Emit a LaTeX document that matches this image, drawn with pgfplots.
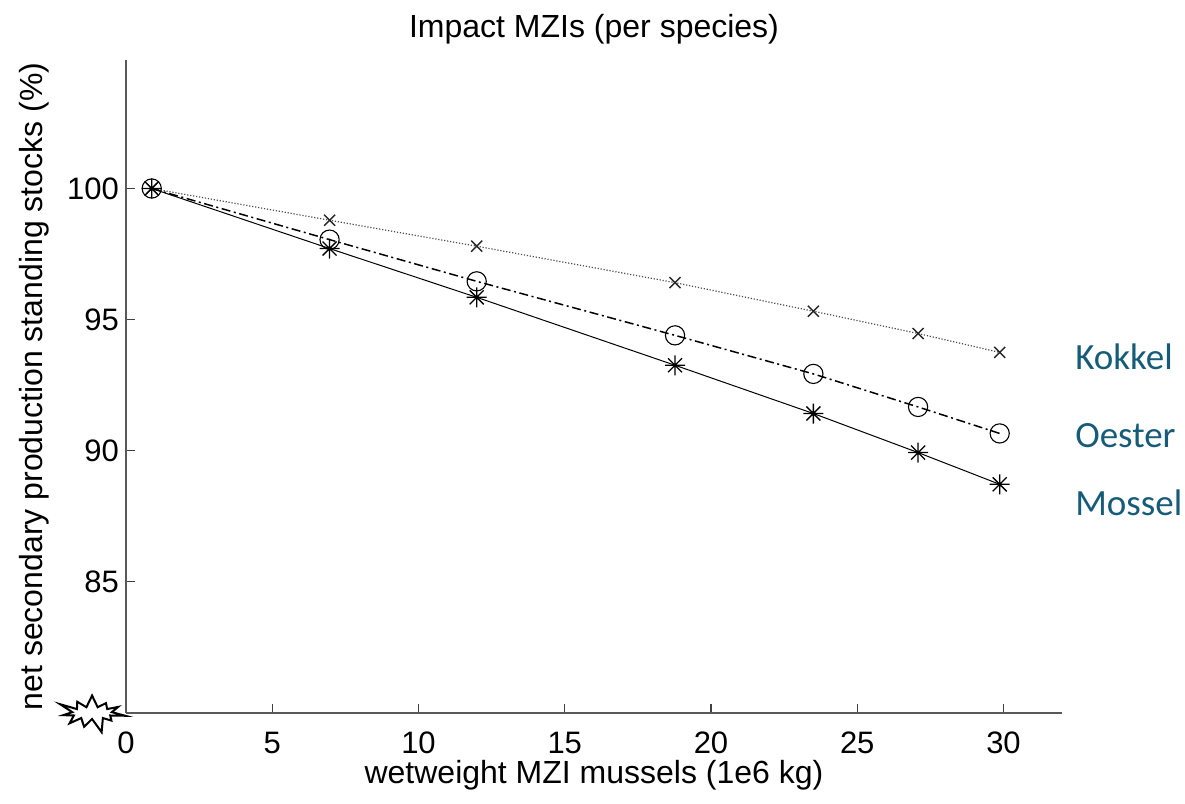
\documentclass[border=0pt]{standalone}
\usepackage{pgfplots}
\pgfplotsset{compat=1.18}
\usepackage{fontspec}
\setmainfont{Liberation Sans}
\newfontfamily\carlito{Carlito}
\usetikzlibrary{shapes.symbols}
\definecolor{labteal}{RGB}{22,92,120}
\pgfdeclareplotmark{mstar}{%
  \pgfpathmoveto{\pgfqpoint{-\pgfplotmarksize}{0pt}}%
  \pgfpathlineto{\pgfqpoint{\pgfplotmarksize}{0pt}}%
  \pgfpathmoveto{\pgfqpoint{0pt}{-\pgfplotmarksize}}%
  \pgfpathlineto{\pgfqpoint{0pt}{\pgfplotmarksize}}%
  \pgfpathmoveto{\pgfqpoint{-0.7\pgfplotmarksize}{-0.7\pgfplotmarksize}}%
  \pgfpathlineto{\pgfqpoint{0.7\pgfplotmarksize}{0.7\pgfplotmarksize}}%
  \pgfpathmoveto{\pgfqpoint{-0.7\pgfplotmarksize}{0.7\pgfplotmarksize}}%
  \pgfpathlineto{\pgfqpoint{0.7\pgfplotmarksize}{-0.7\pgfplotmarksize}}%
  \pgfusepathqstroke}
\begin{document}
\begin{tikzpicture}
\useasboundingbox (-63pt,-45.5pt) rectangle (529.5pt,356.5pt);
\begin{axis}[
  scale only axis,
  width=468pt, height=326.5pt,
  xmin=0, xmax=32, ymin=80, ymax=104.9,
  xtick={0,5,...,30}, ytick={85,90,95,100},
  axis x line*=bottom, axis y line*=left,
  axis line style={black!65, line width=0.7pt},
  tick align=inside,
  major tick length=4.5pt,
  tick style={black!75, line width=0.6pt},
  /pgf/number format/assume math mode=true,
  tick label style={font=\fontsize{15.5}{18}\selectfont},
  xticklabel style={anchor=base, yshift=-20pt},
  label style={font=\fontsize{16}{19}\selectfont},
  xlabel={wetweight MZI mussels (1e6 kg)},
  xlabel style={at={(axis description cs:0.5,0)}, anchor=base, yshift=-35pt},
  ylabel={net secondary production standing stocks (\%)},
  ylabel style={at={(axis description cs:-0.0897,0.5)}, anchor=base},
  title={Impact MZIs (per species)},
  title style={at={(axis description cs:0.5,1)}, anchor=base, yshift=5.4pt, font=\fontsize{16}{19}\selectfont},
  clip=false,
]
% Kokkel
\addplot[black!70, line width=0.6pt, dash pattern=on 0.6pt off 0.9pt, mark=x, mark size=3.9pt, mark options={solid, black!85, line width=0.7pt}]
  coordinates {(0.88,100) (6.96,98.79) (11.99,97.80) (18.77,96.41) (23.5,95.32) (27.08,94.47) (29.87,93.75)};
% Oester
\addplot[black, line width=0.75pt, dash pattern=on 4.5pt off 1.8pt on 1pt off 1.8pt, mark=o, mark size=4.8pt, mark options={solid, black, line width=0.55pt}]
  coordinates {(0.88,100) (6.96,98.05) (11.99,96.46) (18.77,94.40) (23.5,92.93) (27.08,91.67) (29.87,90.66)};
% Mossel
\addplot[black, line width=0.5pt, mark=mstar, mark size=5pt, mark options={solid, black, line width=0.65pt}]
  coordinates {(0.88,100) (6.96,97.71) (11.99,95.85) (18.77,93.26) (23.5,91.42) (27.08,89.93) (29.87,88.72)};
\node[anchor=base west, font=\carlito\fontsize{18.5}{22}\selectfont, text=labteal, inner sep=0pt] at (axis cs:32.44,93.11) {Kokkel};
\node[anchor=base west, font=\carlito\fontsize{18.5}{22}\selectfont, text=labteal, inner sep=0pt] at (axis cs:32.44,90.14) {Oester};
\node[anchor=base west, font=\carlito\fontsize{18.5}{22}\selectfont, text=labteal, inner sep=0pt] at (axis cs:32.44,87.52) {Mossel};
\node[starburst, draw=black, fill=white, line width=1pt, minimum width=36pt, minimum height=22pt, starburst points=11, starburst point height=8pt, inner sep=0pt] at (axis cs:-1.16,80) {};
\end{axis}
\end{tikzpicture}
\end{document}
